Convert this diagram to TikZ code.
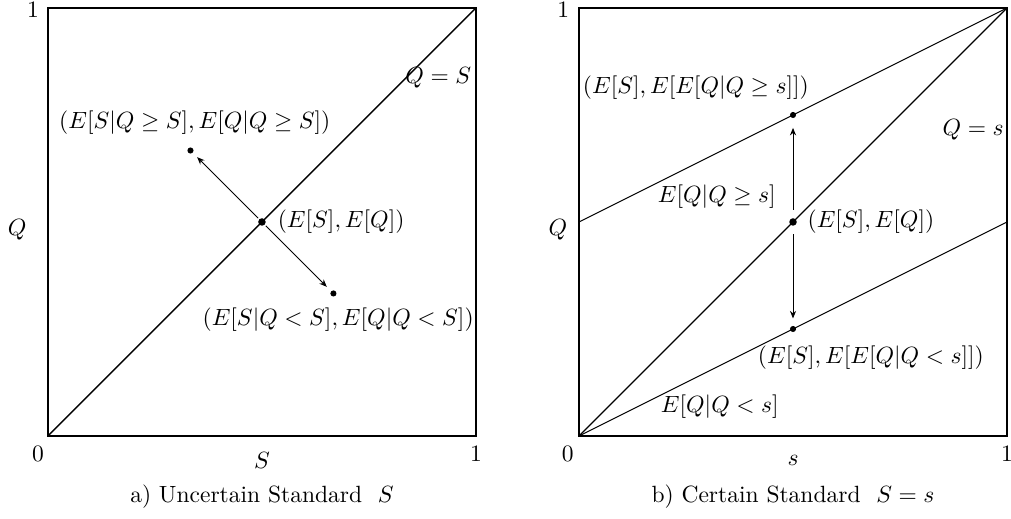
\documentclass[tikz,border=0pt]{standalone}
\usetikzlibrary{arrows.meta}
\tikzset{
  dot/.style={circle, fill, inner sep=0pt, minimum size=3.2pt},
  smalldot/.style={circle, fill, inner sep=0pt, minimum size=2.6pt},
  frame/.style={line width=0.8pt},
  diag/.style={line width=0.6pt},
  thinline/.style={line width=0.4pt},
}
\begin{document}
\begin{tikzpicture}[x=6.4cm, y=6.4cm, >={Stealth[length=3.2pt, width=2.6pt]}]
\useasboundingbox (-0.112,-0.1935) rectangle (2.25,1.0186);
\coordinate (LO) at (0,0);
\coordinate (LT) at (1,1);
\draw[frame] (LO) rectangle (LT);
\draw[diag] (LO) -- (LT);
\node[dot] (Lc) at (0.5,0.5) {};
\node[smalldot] (Lu) at (0.333,0.667) {};
\node[smalldot] (Ld) at (0.667,0.333) {};
\draw[->, thinline, shorten <=0.5pt, shorten >=2.5pt] (Lc) -- (Lu);
\draw[->, thinline, shorten <=0.5pt, shorten >=2.5pt] (Lc) -- (Ld);
\node (Lulab) at (0.343,0.733) {$(E[S|Q\geq S],E[Q|Q\geq S])$};
\node (Ldlab) at (0.678,0.273) {$(E[S|Q<S],E[Q|Q<S])$};
\node (Lclab) at (0.685,0.5) {$(E[S],E[Q])$};
\node (Ldiag) at (0.912,0.838) {$Q=S$};
\node (Lylab) at (-0.072,0.483) {$Q$};
\node (Lxlab) at (0.5,-0.058) {$S$};
\node (Lzero) at (-0.023,-0.042) {$0$};
\node (Lone) at (-0.035,0.995) {$1$};
\node (Lxone) at (1.0,-0.042) {$1$};
\node (Lcap) at (0.5,-0.142) {a)~Uncertain Standard~ $S$};
\begin{scope}[shift={(1.2407,0)}]
\coordinate (RO) at (0,0);
\coordinate (RT) at (1,1);
\coordinate (RL) at (0,0.5);
\coordinate (RR) at (1,0.5);
\draw[frame] (RO) rectangle (RT);
\draw[diag] (RO) -- (RT);
\draw[thinline] (RL) -- (RT);
\draw[thinline] (RO) -- (RR);
\node[dot] (Rc) at (0.5,0.5) {};
\node[smalldot] (Ru) at (0.5,0.75) {};
\node[smalldot] (Rd) at (0.5,0.25) {};
\draw[->, thinline, shorten <=3.5pt, shorten >=4pt] (Rc) -- (Ru);
\draw[->, thinline, shorten <=3.5pt, shorten >=3pt] (Rc) -- (Rd);
\node (Rulab) at (0.273,0.814) {$(E[S],E[E[Q|Q\geq s]])$};
\node (Rdiag) at (0.921,0.716) {$Q=s$};
\node (Rgeq) at (0.322,0.559) {$E[Q|Q\geq s]$};
\node (Rclab) at (0.682,0.5) {$(E[S],E[Q])$};
\node (Rdlab) at (0.682,0.184) {$(E[S],E[E[Q|Q<s]])$};
\node (Rless) at (0.329,0.068) {$E[Q|Q<s]$};
\node (Rylab) at (-0.049,0.483) {$Q$};
\node (Rxlab) at (0.5,-0.058) {$s$};
\node (Rzero) at (-0.026,-0.042) {$0$};
\node (Rone) at (-0.037,0.995) {$1$};
\node (Rxone) at (1.0,-0.042) {$1$};
\node (Rcap) at (0.5,-0.142) {b)~Certain Standard~ $S=s$};
\end{scope}
\end{tikzpicture}
\end{document}
